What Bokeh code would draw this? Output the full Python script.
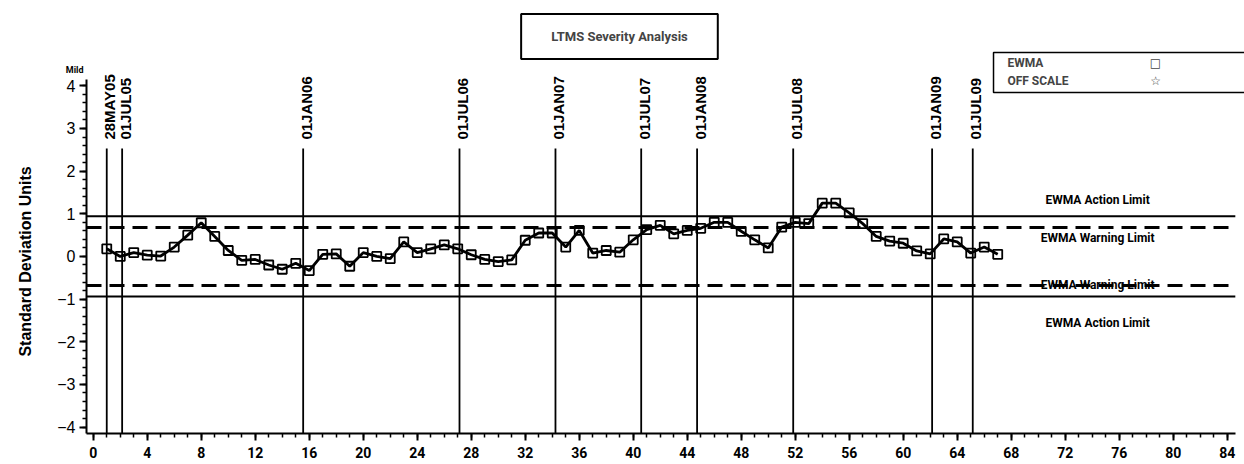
from bokeh.plotting import figure
from bokeh.models import ColumnDataSource, FixedTicker, Label, LabelSet, Range1d, LinearAxis
from bokeh.core.properties import value
from bokeh.embed import file_html
from bokeh.resources import INLINE

# ---------------- data ----------------
test_numbers = list(range(1, 68))
ewma = [0.18, 0.00, 0.09, 0.03, 0.01, 0.22, 0.50, 0.79, 0.47, 0.14,
        -0.09, -0.07, -0.20, -0.30, -0.16, -0.33, 0.05, 0.06, -0.23, 0.09,
        0.00, -0.05, 0.34, 0.09, 0.18, 0.27, 0.18, 0.04, -0.07, -0.12,
        -0.08, 0.38, 0.55, 0.55, 0.22, 0.61, 0.08, 0.14, 0.10, 0.39,
        0.63, 0.73, 0.53, 0.61, 0.66, 0.80, 0.80, 0.59, 0.39, 0.20,
        0.69, 0.80, 0.77, 1.25, 1.25, 1.02, 0.77, 0.47, 0.36, 0.31,
        0.13, 0.06, 0.41, 0.34, 0.08, 0.22, 0.05]
date_labels = ["28MAY05", "01JUL05", "01JAN06", "01JUL06", "01JAN07",
               "01JUL07", "01JAN08", "01JUL08", "01JAN09", "01JUL09"]
date_positions = [1.0, 2.14, 15.55, 27.13, 34.24, 40.59, 44.73, 51.85, 62.14, 65.15]
action_limit = 0.94
warning_limit = 0.68
x_ticks = list(range(0, 85, 4))
x_minor = list(range(0, 85))
y_ticks = [-4, -3, -2, -1, 0, 1, 2, 3, 4]
y_minor = [round(-4 + 0.2 * i, 1) for i in range(41)]
mild_level = 4.36

# ---------------- layout constants ----------------
XB0, XB1 = -0.5, 84.6          # drawn x-axis extent
YB0, YB1 = -4.15, 4.15         # drawn y-axis extent
X_VIEW = (-0.5, 85.28)         # frame reaches the right canvas edge
Y_VIEW = (-4.15, 6.0)          # frame reaches the top canvas edge
LINE_TOP = 2.53
LABEL_BASE = 2.74

COND = "Roboto"
SANS = "Liberation Sans"
NBSP = "\u00a0"

p = figure(width=1244, height=464, x_range=Range1d(*X_VIEW), y_range=Range1d(*Y_VIEW),
           output_backend="svg", toolbar_location=None)
p.min_border = 0
p.min_border_left = 86
p.min_border_bottom = 31
p.min_border_top = 0
p.min_border_right = 0
p.outline_line_color = None
p.xgrid.visible = False
p.ygrid.visible = False
p.background_fill_color = "white"
p.border_fill_color = "white"

# axes
xa = p.xaxis[0]
xa.ticker = FixedTicker(ticks=x_ticks, minor_ticks=x_minor)
xa.bounds = (XB0, XB1)
ya = p.yaxis[0]
ya.ticker = FixedTicker(ticks=y_ticks, minor_ticks=y_minor)
ya.bounds = (YB0, YB1)
ya.major_label_overrides = {t: ("\u2212" + str(-t) if t < 0 else str(t)) for t in y_ticks}
for ax in (xa, ya):
    ax.axis_line_width = 2
    ax.axis_line_color = "black"
    ax.major_tick_in = 0
    ax.major_tick_out = 7
    ax.minor_tick_in = 0
    ax.minor_tick_out = 4
    ax.major_tick_line_width = 2
    ax.minor_tick_line_width = 1.5
    ax.major_tick_line_color = "black"
    ax.minor_tick_line_color = "black"
    ax.major_label_text_color = "black"
xa.major_label_text_font = COND
xa.major_label_text_font_style = "bold"
xa.major_label_text_font_size = "14px"
xa.major_label_standoff = 6
ya.major_label_text_font = SANS
ya.major_label_text_font_size = "16px"
ya.major_label_standoff = 4
# trailing no-break spaces move the (frame-centred) title down to the axis centre
ya.axis_label = "Standard Deviation Units" + NBSP * 20
ya.axis_label_text_font = SANS
ya.axis_label_text_font_style = "bold"
ya.axis_label_text_font_size = "16px"
ya.axis_label_text_color = "black"
ya.axis_label_standoff = 20

# "Mild" tag above the y axis: a line-less side axis with a single labelled tick
mild_axis = LinearAxis(ticker=FixedTicker(ticks=[mild_level], minor_ticks=[]),
                       bounds=(mild_level - 0.06, mild_level + 0.06),
                       major_label_overrides={mild_level: "Mild"},
                       axis_line_color=None, major_tick_line_color=None,
                       minor_tick_line_color=None, major_tick_out=0, major_tick_in=0,
                       minor_tick_out=0, minor_tick_in=0, major_label_standoff=-69,
                       major_label_text_font=COND, major_label_text_font_style="bold",
                       major_label_text_font_size="9px", major_label_text_color="black")
p.add_layout(mild_axis, "left")

# limit lines
solid = ColumnDataSource(dict(x0=[XB0, XB0], x1=[XB1, XB1], y=[action_limit, -action_limit]))
dashed = ColumnDataSource(dict(x0=[XB0, XB0], x1=[XB1, XB1], y=[warning_limit, -warning_limit]))
p.segment(x0="x0", y0="y", x1="x1", y1="y", source=solid, line_color="black", line_width=2)
p.segment(x0="x0", y0="y", x1="x1", y1="y", source=dashed, line_color="black",
          line_width=3, line_dash="15 8")

# date lines and labels
n = len(date_positions)
dsrc = ColumnDataSource(dict(x=date_positions, y0=[YB0] * n, y1=[LINE_TOP] * n,
                             yl=[LABEL_BASE] * n, text=date_labels))
p.segment(x0="x", y0="y0", x1="x", y1="y1", source=dsrc, line_color="black", line_width=1.8)
p.add_layout(LabelSet(x="x", y="yl", text="text", source=dsrc, angle=90, angle_units="deg",
                      text_align="left", text_baseline="middle", x_offset=3,
                      text_font=value(SANS), text_font_style=value("bold"),
                      text_font_size=value("15px"), text_color=value("black")))

# EWMA series
src = ColumnDataSource(dict(x=test_numbers, y=ewma))
p.line("x", "y", source=src, line_color="black", line_width=2.8)
p.scatter("x", "y", source=src, marker="square", size=9, fill_alpha=0,
          line_color="black", line_width=1.8)

# limit labels
for ytxt, off, txt in [(action_limit, 16, "EWMA Action Limit"),
                       (warning_limit, -11, "EWMA Warning Limit"),
                       (-warning_limit, 0, "EWMA Warning Limit"),
                       (-action_limit, -26, "EWMA Action Limit")]:
    p.add_layout(Label(x=74.4, y=ytxt, y_offset=off, text=txt, text_align="center",
                       text_baseline="middle", text_font=COND, text_font_style="bold",
                       text_font_size="12px", text_color="black"))

# title box
p.add_layout(Label(x=38.98, y=5.158, text="LTMS Severity Analysis", text_align="center",
                   text_baseline="middle", text_font=COND, text_font_style="bold",
                   text_font_size="13px", border_line_color="black", border_line_width=2,
                   background_fill_color="white",
                   padding=dict(left=30, right=30, top=15, bottom=15)))

# legend box (runs off the right edge like the original)
p.add_layout(Label(x=77.91, y=4.314, text=" ", text_align="center", text_baseline="middle",
                   text_font=COND, text_font_size="12px", border_line_color="black",
                   border_line_width=1.5, background_fill_color="white",
                   padding=dict(left=150, right=150, top=13, bottom=13)))
for yy, txt, mk in [(4.525, "EWMA", "\u25a1"), (4.103, "OFF SCALE", "\u2606")]:
    p.add_layout(Label(x=67.72, y=yy, text=txt, text_align="left", text_baseline="middle",
                       text_font=COND, text_font_style="bold", text_font_size="12px"))
    p.add_layout(Label(x=78.69, y=yy, text=mk, text_align="center", text_baseline="middle",
                       text_font="DejaVu Sans", text_font_style="bold", text_font_size="12px"))

open("out.html", "w").write(file_html(p, INLINE))
